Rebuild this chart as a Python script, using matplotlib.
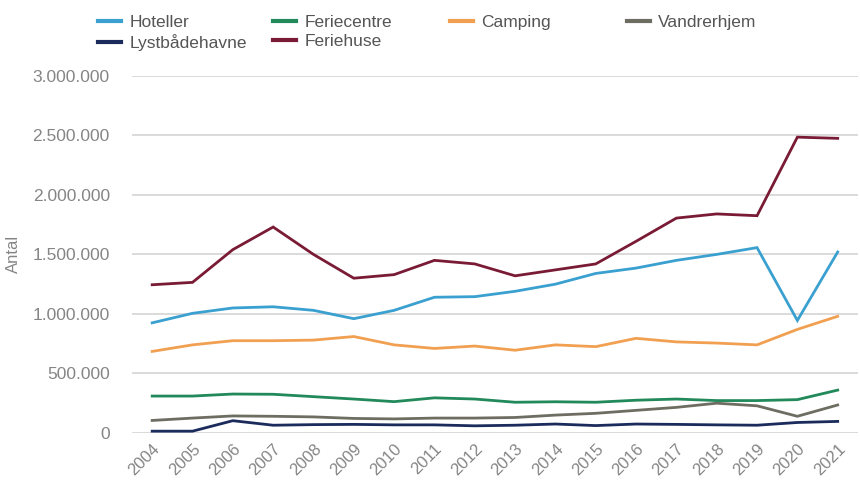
import matplotlib
matplotlib.use("Agg")
import matplotlib.pyplot as plt
from matplotlib.ticker import FuncFormatter

plt.rcParams['font.family'] = ['Liberation Sans', 'DejaVu Sans']

years = list(range(2004, 2022))

hoteller = [925000, 1005000, 1050000, 1060000, 1030000, 960000, 1030000, 1140000, 1145000,
            1190000, 1250000, 1340000, 1385000, 1450000, 1500000, 1557000, 945000, 1520000]
feriecentre = [310000, 310000, 327000, 325000, 305000, 285000, 263000, 295000, 285000,
               258000, 262000, 258000, 275000, 285000, 272000, 272000, 280000, 360000]
camping = [685000, 740000, 775000, 775000, 780000, 810000, 740000, 710000, 730000,
           695000, 740000, 725000, 795000, 765000, 755000, 740000, 870000, 980000]
vandrerhjem = [105000, 125000, 143000, 140000, 135000, 122000, 118000, 125000, 125000,
               130000, 150000, 165000, 190000, 215000, 250000, 228000, 140000, 235000]
lystbaadehavne = [15000, 15000, 103000, 65000, 70000, 72000, 68000, 68000, 60000,
                  65000, 75000, 62000, 75000, 72000, 68000, 65000, 88000, 97000]
feriehuse = [1245000, 1265000, 1540000, 1730000, 1500000, 1300000, 1330000, 1450000, 1420000,
             1320000, 1370000, 1420000, 1610000, 1805000, 1840000, 1825000, 2485000, 2475000]

series = [
    ('Hoteller', hoteller, '#3aa0d0'),
    ('Feriecentre', feriecentre, '#21895a'),
    ('Camping', camping, '#f1a052'),
    ('Vandrerhjem', vandrerhjem, '#6e6d62'),
    ('Lystbådehavne', lystbaadehavne, '#1b2b5c'),
    ('Feriehuse', feriehuse, '#7a1b36'),
]

fig = plt.figure(figsize=(8.6, 4.8), dpi=100)
ax = fig.add_axes([0.1535, 0.098, 0.844, 0.744])

lines = {}
for name, vals, color in series:
    (ln,) = ax.plot(years, vals, color=color, linewidth=2.0, clip_on=False,
                    solid_joinstyle='miter')
    lines[name] = ln

ax.set_xlim(2003.5, 2021.5)
ax.set_ylim(0, 3000000)
ax.set_yticks(range(0, 3000001, 500000))
ax.yaxis.set_major_formatter(FuncFormatter(lambda v, p: f"{v:,.0f}".replace(",", ".")))
ax.set_xticks(years)
ax.set_xticklabels([str(y) for y in years], rotation=45, ha='right', rotation_mode='anchor')

ax.grid(axis='y', color='#d4d4d4', linewidth=1.2)
ax.set_axisbelow(True)
for s in ax.spines.values():
    s.set_visible(False)
ax.tick_params(axis='both', length=0, labelcolor='#858585')
ax.tick_params(axis='y', pad=16, labelsize=12.5)
ax.tick_params(axis='x', pad=6, labelsize=12)
ax.set_ylabel('Antal', color='#858585', fontsize=12, labelpad=8)

# legend: four columns at fixed positions, like the original
columns = [['Hoteller', 'Lystbådehavne'], ['Feriecentre', 'Feriehuse'],
           ['Camping'], ['Vandrerhjem']]
col_x = [98, 273, 450, 627]
for names, x in zip(columns, col_x):
    leg = fig.legend([lines[n] for n in names], names, loc='upper left',
                     bbox_to_anchor=(x / 860, 1 - 15 / 480), frameon=False,
                     fontsize=12.5, handlelength=1.35, handletextpad=0.45,
                     borderpad=0, borderaxespad=0, labelspacing=0.2,
                     labelcolor='#555555')
    for h in leg.get_lines():
        h.set_linewidth(3)

fig.savefig('out.png', dpi=100)
